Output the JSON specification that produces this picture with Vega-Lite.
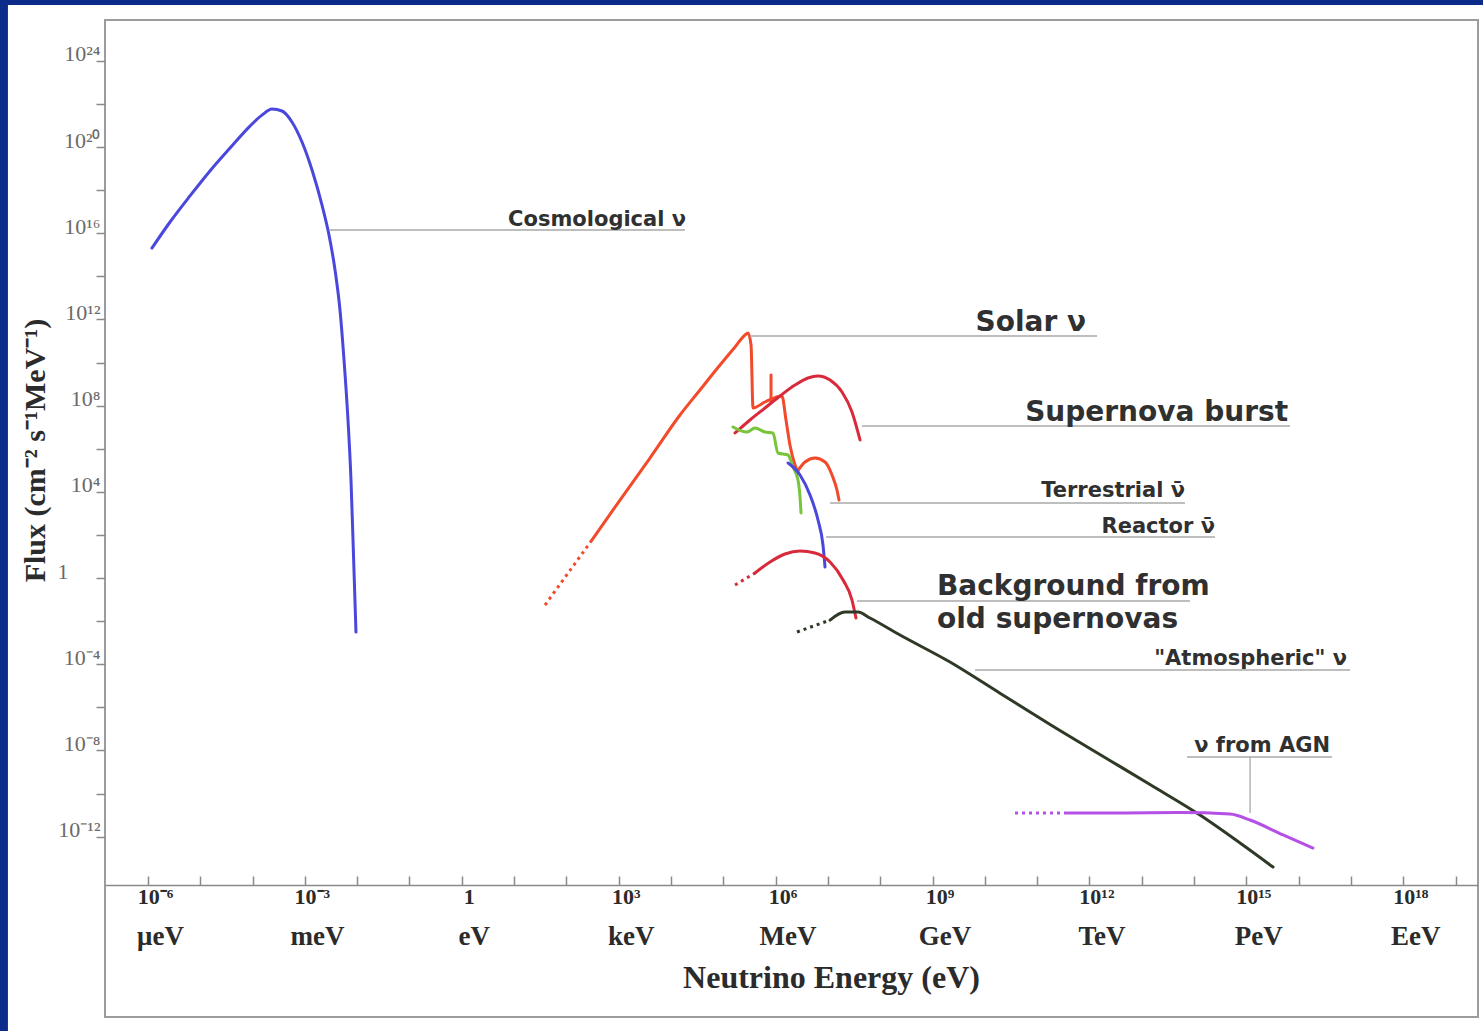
{
  "$schema": "https://vega.github.io/schema/vega-lite/v6.json",
  "width": 1373,
  "height": 997,
  "autosize": {"type": "none"},
  "padding": {"left": 105, "top": 20, "right": 5, "bottom": 14},
  "background": "white",
  "config": {"view": {"stroke": "#9c9c9c", "strokeWidth": 2}, "axis": {"grid": false}},
  "resolve": {"axis": {"x": "independent"}},
  "datasets": {
    "curves": [
      {"series": "Cosmological", "E": 1.19e-6, "F": 2.04e15},
      {"series": "Cosmological", "E": 2.64e-6, "F": 3.31e16},
      {"series": "Cosmological", "E": 6.35e-6, "F": 5.37e17},
      {"series": "Cosmological", "E": 1.53e-5, "F": 7.76e18},
      {"series": "Cosmological", "E": 3.70e-5, "F": 8.91e19},
      {"series": "Cosmological", "E": 8.91e-5, "F": 9.33e20},
      {"series": "Cosmological", "E": 1.51e-4, "F": 3.02e21},
      {"series": "Cosmological", "E": 2.35e-4, "F": 5.75e21},
      {"series": "Cosmological", "E": 3.65e-4, "F": 4.68e21},
      {"series": "Cosmological", "E": 5.66e-4, "F": 1.45e21},
      {"series": "Cosmological", "E": 8.81e-4, "F": 1.70e20},
      {"series": "Cosmological", "E": 1.37e-3, "F": 8.51e18},
      {"series": "Cosmological", "E": 2.12e-3, "F": 2.04e17},
      {"series": "Cosmological", "E": 2.89e-3, "F": 8.24e15},
      {"series": "Cosmological", "E": 3.77e-3, "F": 1.96e14},
      {"series": "Cosmological", "E": 4.69e-3, "F": 2.73e12},
      {"series": "Cosmological", "E": 5.60e-3, "F": 1.31e10},
      {"series": "Cosmological", "E": 6.67e-3, "F": 2.15e7},
      {"series": "Cosmological", "E": 7.61e-3, "F": 3.53e4},
      {"series": "Cosmological", "E": 8.32e-3, "F": 58.0},
      {"series": "Cosmological", "E": 9.48e-3, "F": 3.09e-3},

      {"series": "Solar", "E": 308, "F": 58.0},
      {"series": "Solar", "E": 1059, "F": 4.16e3},
      {"series": "Solar", "E": 3963, "F": 3.70e5},
      {"series": "Solar", "E": 1.486e4, "F": 3.66e7},
      {"series": "Solar", "E": 3.58e4, "F": 5.30e8},
      {"series": "Solar", "E": 8.65e4, "F": 7.66e9},
      {"series": "Solar", "E": 1.675e5, "F": 5.24e10},
      {"series": "Solar", "E": 2.60e5, "F": 1.89e11},
      {"series": "Solar", "E": 2.965e5, "F": 2.34e11},
      {"series": "Solar", "E": 3.39e5, "F": 6.49e10},
      {"series": "Solar", "E": 3.70e5, "F": 7.74e7},
      {"series": "Solar", "E": 6.27e5, "F": 1.47e8},
      {"series": "Solar", "E": 1.32e6, "F": 2.79e8},
      {"series": "Solar", "E": 1.58e6, "F": 2.15e7},
      {"series": "Solar", "E": 1.88e6, "F": 1.49e6},
      {"series": "Solar", "E": 2.35e6, "F": 1.75e5},
      {"series": "Solar", "E": 2.68e6, "F": 8.30e4},

      {"series": "Solar 7Be", "E": 8.17e5, "F": 2.63e9},
      {"series": "Solar 7Be", "E": 8.18e5, "F": 1.47e8},

      {"series": "Solar hep", "E": 2.56e6, "F": 8.30e4},
      {"series": "Solar hep", "E": 3.65e6, "F": 2.42e5},
      {"series": "Solar hep", "E": 5.66e6, "F": 3.70e5},
      {"series": "Solar hep", "E": 8.81e6, "F": 2.42e5},
      {"series": "Solar hep", "E": 1.20e7, "F": 6.03e4},
      {"series": "Solar hep", "E": 1.49e7, "F": 1.21e4},
      {"series": "Solar hep", "E": 1.63e7, "F": 4.16e3},

      {"series": "Supernova burst", "E": 1.675e5, "F": 5.36e6},
      {"series": "Supernova burst", "E": 3.24e5, "F": 2.15e7},
      {"series": "Supernova burst", "E": 6.27e5, "F": 7.74e7},
      {"series": "Supernova burst", "E": 1.21e6, "F": 2.79e8},
      {"series": "Supernova burst", "E": 2.35e6, "F": 9.04e8},
      {"series": "Supernova burst", "E": 4.17e6, "F": 1.91e9},
      {"series": "Supernova burst", "E": 6.47e6, "F": 2.37e9},
      {"series": "Supernova burst", "E": 1.10e7, "F": 1.54e9},
      {"series": "Supernova burst", "E": 1.86e7, "F": 4.28e8},
      {"series": "Supernova burst", "E": 2.89e7, "F": 5.05e7},
      {"series": "Supernova burst", "E": 4.11e7, "F": 2.54e6},

      {"series": "Terrestrial", "E": 1.53e5, "F": 1.02e7},
      {"series": "Terrestrial", "E": 2.84e5, "F": 5.96e6},
      {"series": "Terrestrial", "E": 4.04e5, "F": 9.14e6},
      {"series": "Terrestrial", "E": 6.27e5, "F": 5.96e6},
      {"series": "Terrestrial", "E": 8.91e5, "F": 5.36e6},
      {"series": "Terrestrial", "E": 1.11e6, "F": 6.31e5},
      {"series": "Terrestrial", "E": 1.73e6, "F": 5.10e5},
      {"series": "Terrestrial", "E": 2.15e6, "F": 1.42e5},
      {"series": "Terrestrial", "E": 2.68e6, "F": 3.53e4},
      {"series": "Terrestrial", "E": 2.93e6, "F": 5.74e3},
      {"series": "Terrestrial", "E": 3.06e6, "F": 1.04e3},

      {"series": "Reactor", "E": 1.73e6, "F": 2.17e5},
      {"series": "Reactor", "E": 2.93e6, "F": 6.03e4},
      {"series": "Reactor", "E": 4.55e6, "F": 7.11e3},
      {"series": "Reactor", "E": 6.47e6, "F": 491},
      {"series": "Reactor", "E": 8.05e6, "F": 34.0},
      {"series": "Reactor", "E": 8.81e6, "F": 3.24},

      {"series": "Background SN", "E": 4.04e5, "F": 1.71},
      {"series": "Background SN", "E": 7.82e5, "F": 5.52},
      {"series": "Background SN", "E": 1.51e6, "F": 13.0},
      {"series": "Background SN", "E": 2.93e6, "F": 17.9},
      {"series": "Background SN", "E": 5.66e6, "F": 14.5},
      {"series": "Background SN", "E": 1.10e7, "F": 5.52},
      {"series": "Background SN", "E": 1.95e7, "F": 0.808},
      {"series": "Background SN", "E": 2.89e7, "F": 9.53e-2},
      {"series": "Background SN", "E": 3.44e7, "F": 1.39e-2},

      {"series": "Atmospheric", "E": 1.10e7, "F": 1.12e-2},
      {"series": "Atmospheric", "E": 2.12e7, "F": 2.64e-2},
      {"series": "Atmospheric", "E": 3.77e7, "F": 2.64e-2},
      {"series": "Atmospheric", "E": 6.38e7, "F": 1.39e-2},
      {"series": "Atmospheric", "E": 2.39e8, "F": 2.26e-3},
      {"series": "Atmospheric", "E": 2.16e9, "F": 1.26e-4},
      {"series": "Atmospheric", "E": 1.95e10, "F": 4.50e-6},
      {"series": "Atmospheric", "E": 1.77e11, "F": 1.60e-7},
      {"series": "Atmospheric", "E": 2.70e12, "F": 3.00e-9},
      {"series": "Atmospheric", "E": 1.44e13, "F": 2.60e-10},
      {"series": "Atmospheric", "E": 1.30e14, "F": 1.00e-11},
      {"series": "Atmospheric", "E": 7.59e14, "F": 5.05e-13},
      {"series": "Atmospheric", "E": 3.24e15, "F": 3.88e-14},

      {"series": "AGN", "E": 3.90e11, "F": 1.24e-11},
      {"series": "AGN", "E": 3.85e12, "F": 1.24e-11},
      {"series": "AGN", "E": 5.40e13, "F": 1.30e-11},
      {"series": "AGN", "E": 4.88e14, "F": 1.12e-11},
      {"series": "AGN", "E": 1.18e15, "F": 5.89e-12},
      {"series": "AGN", "E": 5.04e15, "F": 1.19e-12},
      {"series": "AGN", "E": 1.88e16, "F": 2.96e-13}
    ],
    "dotted": [
      {"series": "Solar", "E": 39.0, "F": 5.58e-2},
      {"series": "Solar", "E": 308, "F": 58.0},
      {"series": "Background SN", "E": 1.675e5, "F": 0.473},
      {"series": "Background SN", "E": 4.04e5, "F": 1.71},
      {"series": "Atmospheric", "E": 2.56e6, "F": 3.12e-3},
      {"series": "Atmospheric", "E": 1.10e7, "F": 1.12e-2},
      {"series": "AGN", "E": 3.78e10, "F": 1.24e-11},
      {"series": "AGN", "E": 3.90e11, "F": 1.24e-11}
    ],
    "leaders": [
      {"name": "Cosmological", "x": 3.02e-3, "x2": 1.85e4, "y": 1.41e16, "y2": 1.41e16},
      {"name": "Solar", "x": 3.24e5, "x2": 1.40e12, "y": 1.70e11, "y2": 1.70e11},
      {"name": "Supernova burst", "x": 4.49e7, "x2": 6.85e15, "y": 1.13e7, "y2": 1.13e7},
      {"name": "Terrestrial", "x": 1.10e7, "x2": 6.73e13, "y": 3.02e3, "y2": 3.02e3},
      {"name": "Reactor", "x": 9.20e6, "x2": 2.52e14, "y": 80.0, "y2": 80.0},
      {"name": "Background SN", "x": 3.60e7, "x2": 8.39e13, "y": 8.57e-2, "y2": 8.57e-2},
      {"name": "Atmospheric", "x": 6.50e9, "x2": 9.62e16, "y": 5.38e-5, "y2": 5.38e-5},
      {"name": "AGN", "x": 7.35e13, "x2": 4.36e16, "y": 4.94e-9, "y2": 4.94e-9},
      {"name": "AGN", "x": 1.18e15, "x2": 1.18e15, "y": 4.94e-9, "y2": 1.24e-11}
    ],
    "labels_small": [
      {"label": "Cosmological ν", "x": 1.94e4, "y": 2.16e16},
      {"label": "Terrestrial ν̄", "x": 6.73e13, "y": 5.74e3},
      {"label": "Reactor ν̄", "x": 2.52e14, "y": 122},
      {"label": "\"Atmospheric\" ν", "x": 8.41e16, "y": 9.18e-5},
      {"label": "ν from AGN", "x": 3.98e16, "y": 8.43e-9}
    ],
    "labels_large": [
      {"label": "Solar ν", "x": 8.61e11, "y": 2.90e11},
      {"label": "Supernova burst", "x": 6.27e15, "y": 1.93e7}
    ],
    "labels_bg": [
      {"label": "Background from", "x": 1.22e9, "y": 0.163},
      {"label": "old supernovas", "x": 1.22e9, "y": 4.79e-3}
    ]
  },
  "layer": [
    {
      "data": {"name": "curves"},
      "mark": {"type": "line", "strokeWidth": 3, "strokeJoin": "round", "strokeCap": "round", "interpolate": "monotone"},
      "encoding": {
        "x": {
          "field": "E", "type": "quantitative",
          "scale": {"type": "log", "domain": [1.507e-7, 2.69e19], "nice": false},
          "axis": {
            "orient": "top", "offset": -865, "labels": false, "title": null,
            "domain": true, "domainColor": "#8a8a8a", "domainWidth": 1.5,
            "ticks": true, "tickColor": "#8a8a8a", "tickWidth": 1.5, "tickSize": 9,
            "values": [1e-6, 1e-5, 1e-4, 1e-3, 1e-2, 1e-1, 1, 10, 100, 1e3, 1e4, 1e5, 1e6, 1e7, 1e8, 1e9, 1e10, 1e11, 1e12, 1e13, 1e14, 1e15, 1e16, 1e17, 1e18, 1e19]
          }
        },
        "y": {
          "field": "F", "type": "quantitative",
          "scale": {"type": "log", "domain": [4.26e-21, 7.82e25], "nice": false},
          "axis": {
            "orient": "left", "domain": false,
            "values": [1e-12, 1e-10, 1e-8, 1e-6, 1e-4, 1e-2, 1, 1e2, 1e4, 1e6, 1e8, 1e10, 1e12, 1e14, 1e16, 1e18, 1e20, 1e22, 1e24],
            "labelExpr": "['10⁻¹²','','10⁻⁸','','10⁻⁴','','1','','10⁴','','10⁸','','10¹²','','10¹⁶','','10²⁰','','10²⁴'][round(log(datum.value)/LN10)/2+6]",
            "ticks": true, "tickSize": 9, "tickColor": "#8a8a8a", "tickWidth": 1.5,
            "labelFont": "Liberation Serif", "labelFontSize": 22, "labelColor": "#6a6a6a",
            "labelBaseline": "alphabetic",
            "labelPadding": {"condition": {"test": "datum.value > 0.5 && datum.value < 2", "value": 28}, "value": -4},
            "labelAlign": "right",
            "labelOverlap": false, "labelFlush": false, "labelBound": false,
            "title": "Flux (cm⁻² s⁻¹MeV⁻¹)", "titleFont": "Liberation Serif", "titleFontSize": 30,
            "titleFontWeight": "bold", "titleColor": "#2b2b2b", "titleX": -70, "titleY": 430,
            "titleAngle": -90, "titleBaseline": "middle", "titleAlign": "center"
          }
        },
        "color": {
          "field": "series", "type": "nominal", "legend": null,
          "scale": {
            "domain": ["Cosmological", "Solar", "Solar 7Be", "Solar hep", "Supernova burst", "Terrestrial", "Reactor", "Background SN", "Atmospheric", "AGN"],
            "range": ["#4a48dc", "#f24a2a", "#f24a2a", "#f24a2a", "#d92a3c", "#78c43a", "#4a48dc", "#d92a3c", "#2f3a26", "#b550e6"]
          }
        }
      }
    },
    {
      "data": {"name": "dotted"},
      "mark": {"type": "line", "strokeWidth": 3, "strokeDash": [3, 4]},
      "encoding": {
        "x": {"field": "E", "type": "quantitative", "scale": {"type": "log", "domain": [1.507e-7, 2.69e19], "nice": false}, "axis": null},
        "y": {"field": "F", "type": "quantitative", "scale": {"type": "log", "domain": [4.26e-21, 7.82e25], "nice": false}},
        "color": {
          "field": "series", "type": "nominal", "legend": null,
          "scale": {
            "domain": ["Cosmological", "Solar", "Solar 7Be", "Solar hep", "Supernova burst", "Terrestrial", "Reactor", "Background SN", "Atmospheric", "AGN"],
            "range": ["#4a48dc", "#f24a2a", "#f24a2a", "#f24a2a", "#d92a3c", "#78c43a", "#4a48dc", "#d92a3c", "#2f3a26", "#b550e6"]
          }
        }
      }
    },
    {
      "data": {"name": "leaders"},
      "mark": {"type": "rule", "color": "#a8a8a8", "strokeWidth": 1.3},
      "encoding": {
        "x": {
          "field": "x", "type": "quantitative",
          "scale": {"type": "log", "domain": [1.507e-7, 2.69e19], "nice": false},
          "axis": {
            "orient": "bottom", "offset": -132, "title": null,
            "values": [1e-6, 1e-3, 1, 1e3, 1e6, 1e9, 1e12, 1e15, 1e18],
            "labelExpr": "['10⁻⁶','10⁻³','1','10³','10⁶','10⁹','10¹²','10¹⁵','10¹⁸'][round(log(datum.value)/LN10/3)+2]",
            "domain": false, "ticks": false, "tickSize": 0, "labelPadding": 1,
            "labelFont": "Liberation Serif", "labelFontWeight": "bold", "labelFontSize": 22,
            "labelColor": "#2b2b2b", "labelOffset": 7,
            "labelOverlap": false, "labelFlush": false, "labelBound": false
          }
        },
        "x2": {"field": "x2"},
        "y": {"field": "y", "type": "quantitative", "scale": {"type": "log", "domain": [4.26e-21, 7.82e25], "nice": false}},
        "y2": {"field": "y2"}
      }
    },
    {
      "data": {"name": "labels_small"},
      "mark": {"type": "text", "align": "right", "baseline": "alphabetic", "font": "DejaVu Sans", "fontWeight": "bold", "fontSize": 21, "color": "#303030"},
      "encoding": {
        "x": {
          "field": "x", "type": "quantitative",
          "scale": {"type": "log", "domain": [1.507e-7, 2.69e19], "nice": false},
          "axis": {
            "orient": "bottom", "offset": -132,
            "values": [1e-6, 1e-3, 1, 1e3, 1e6, 1e9, 1e12, 1e15, 1e18],
            "labelExpr": "['μeV','meV','eV','keV','MeV','GeV','TeV','PeV','EeV'][round(log(datum.value)/LN10/3)+2]",
            "domain": false, "ticks": false, "tickSize": 0, "labelPadding": 38,
            "labelFont": "Liberation Serif", "labelFontWeight": "bold", "labelFontSize": 27,
            "labelColor": "#2b2b2b", "labelOffset": 12,
            "labelOverlap": false, "labelFlush": false, "labelBound": false,
            "title": "Neutrino Energy (eV)", "titleFont": "Liberation Serif", "titleFontWeight": "bold",
            "titleFontSize": 32, "titleColor": "#2b2b2b", "titleX": 726, "titleY": 102,
            "titleBaseline": "alphabetic", "titleAlign": "center"
          }
        },
        "y": {"field": "y", "type": "quantitative", "scale": {"type": "log", "domain": [4.26e-21, 7.82e25], "nice": false}},
        "text": {"field": "label"}
      }
    },
    {
      "data": {"name": "labels_large"},
      "mark": {"type": "text", "align": "right", "baseline": "alphabetic", "font": "DejaVu Sans", "fontWeight": "bold", "fontSize": 28, "color": "#303030"},
      "encoding": {
        "x": {"field": "x", "type": "quantitative", "scale": {"type": "log", "domain": [1.507e-7, 2.69e19], "nice": false}, "axis": null},
        "y": {"field": "y", "type": "quantitative", "scale": {"type": "log", "domain": [4.26e-21, 7.82e25], "nice": false}},
        "text": {"field": "label"}
      }
    },
    {
      "data": {"name": "labels_bg"},
      "mark": {"type": "text", "align": "left", "baseline": "alphabetic", "font": "DejaVu Sans", "fontWeight": "bold", "fontSize": 28, "color": "#303030"},
      "encoding": {
        "x": {"field": "x", "type": "quantitative", "scale": {"type": "log", "domain": [1.507e-7, 2.69e19], "nice": false}, "axis": null},
        "y": {"field": "y", "type": "quantitative", "scale": {"type": "log", "domain": [4.26e-21, 7.82e25], "nice": false}},
        "text": {"field": "label"}
      }
    },
    {
      "data": {"values": [{}]},
      "mark": {"type": "rect", "color": "#0b2b8a"},
      "encoding": {
        "x": {"datum": 9.53e-10, "type": "quantitative", "scale": {"type": "log", "domain": [1.507e-7, 2.69e19], "nice": false}, "axis": null},
        "x2": {"datum": 7.10e19},
        "y": {"datum": 1.93e27, "type": "quantitative", "scale": {"type": "log", "domain": [4.26e-21, 7.82e25], "nice": false}},
        "y2": {"datum": 3.88e26}
      }
    },
    {
      "data": {"values": [{}]},
      "mark": {"type": "rect", "color": "#0b2b8a"},
      "encoding": {
        "x": {"datum": 9.53e-10, "type": "quantitative", "scale": {"type": "log", "domain": [1.507e-7, 2.69e19], "nice": false}, "axis": null},
        "x2": {"datum": 2.10e-9},
        "y": {"datum": 1.93e27, "type": "quantitative", "scale": {"type": "log", "domain": [4.26e-21, 7.82e25], "nice": false}},
        "y2": {"datum": 3.64e-22}
      }
    }
  ]
}
